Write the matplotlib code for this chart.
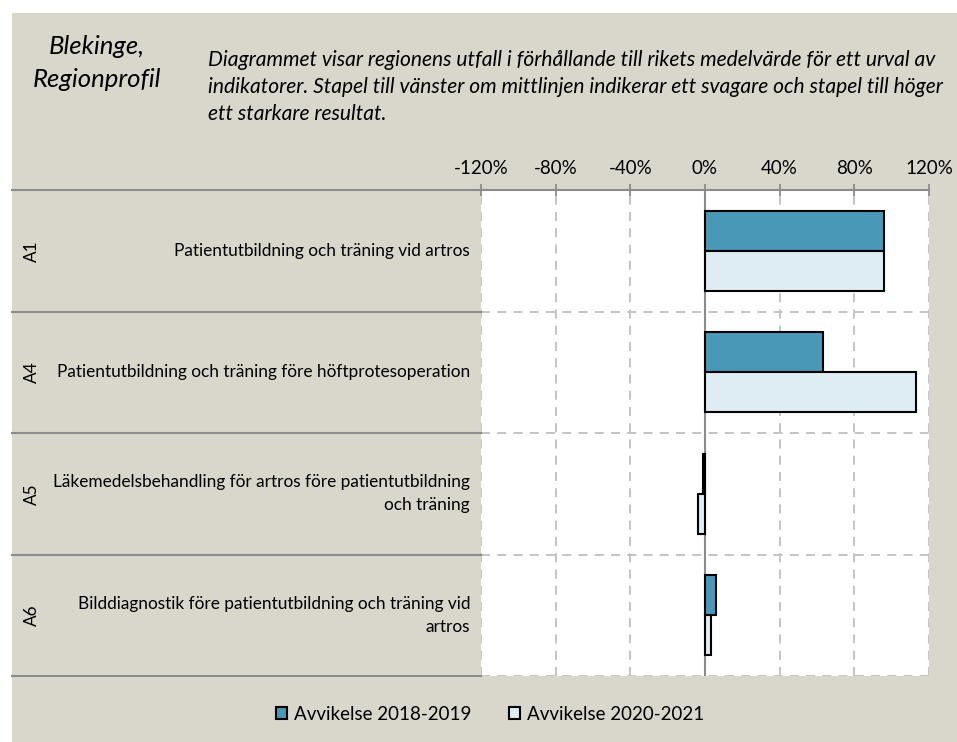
import numpy as np
import matplotlib.pyplot as plt
import matplotlib.transforms as mtransforms
from matplotlib.patches import Rectangle, Patch

codes = ['A1', 'A4', 'A5', 'A6']
labels = ['Patientutbildning och träning vid artros',
          'Patientutbildning och träning före höftprotesoperation',
          'Läkemedelsbehandling för artros före patientutbildning\noch träning',
          'Bilddiagnostik före patientutbildning och träning vid\nartros']
dev_1819 = [96, 63, -1, 6]
dev_2021 = [96, 113, -3.5, 3]
series_names = ['Avvikelse 2018-2019', 'Avvikelse 2020-2021']
xticks = [-120, -80, -40, 0, 40, 80, 120]

beige = '#d9d7cb'
dark = '#4a98b8'
light = '#deedf3'
sep = '#8c8c8c'
grid = '#bfbfbf'

plt.rcParams['font.family'] = ['Lato', 'DejaVu Sans']

W, H = 957, 742
fig = plt.figure(figsize=(W / 100, H / 100), dpi=100)
fig.patch.set_facecolor('white')
fig.patches.append(Rectangle((12 / W, 0), 1 - 12 / W, (H - 13) / H,
                             transform=fig.transFigure, facecolor=beige,
                             edgecolor='none', zorder=-10))

ax = fig.add_axes([481 / W, (H - 676) / H, (929 - 481) / W, (676 - 190) / H])
ax.set_facecolor('white')
ax.set_xlim(-120, 120)
ax.set_ylim(3.5, -0.5)

index = np.arange(len(codes))
h = 0.33
ax.barh(index - h / 2, dev_1819, h, color=dark, edgecolor='black', linewidth=1.5, zorder=3)
ax.barh(index + h / 2, dev_2021, h, color=light, edgecolor='black', linewidth=1.5, zorder=3)

for s in ax.spines.values():
    s.set_visible(False)

for x in xticks:
    if x == 0:
        ax.axvline(0, color=sep, lw=1.5, zorder=2)
    else:
        ax.axvline(x, color=grid, lw=1.3, ls=(0, (5, 4)), zorder=1)

ax.xaxis.tick_top()
ax.set_xticks(xticks)
ax.set_xticklabels([f'{x}%' for x in xticks], fontsize=13.5)
ax.tick_params(axis='x', direction='inout', length=8, color=sep, width=1.3, pad=5)
ax.set_yticks([])

# row boundaries: solid in the label area, dashed in the plot
trans = mtransforms.blended_transform_factory(fig.transFigure, ax.transData)
for b in np.arange(-0.5, len(codes)):
    if b > -0.5:
        ax.axhline(b, color=grid, lw=1.3, ls=(0, (5, 4)), zorder=1)
    ax.plot([12 / W, 481 / W], [b, b], color=sep, lw=1.5, transform=trans, clip_on=False)
ax.plot([481 / W, 929 / W], [-0.5, -0.5], color=sep, lw=1.5, transform=trans, clip_on=False)

for i in index:
    ax.text(470 / W, i, labels[i], transform=trans, ha='right', va='center',
            fontsize=12.4, linespacing=1.5)
    ax.text(32 / W, i, codes[i], transform=trans, ha='center', va='center',
            rotation=90, fontsize=12.4)

fig.text(97 / W, 1 - 63 / H, 'Blekinge,\nRegionprofil', ha='center', va='center',
         style='italic', fontsize=18.5, linespacing=1.55)
fig.text(208 / W, 1 - 87 / H,
         'Diagrammet visar regionens utfall i förhållande till rikets medelvärde för ett urval av\n'
         'indikatorer. Stapel till vänster om mittlinjen indikerar ett svagare och stapel till höger\n'
         'ett starkare resultat.',
         ha='left', va='center', style='italic', fontsize=15.1, linespacing=1.45)

handles = [Patch(facecolor=dark, edgecolor='black', lw=1.5),
           Patch(facecolor=light, edgecolor='black', lw=1.5)]
fig.legend(handles, series_names, loc='center', bbox_to_anchor=(490 / W, 1 - 714 / H),
           ncol=2, frameon=False, fontsize=13.5, handlelength=0.6, handleheight=0.6,
           handletextpad=0.35, columnspacing=2.0)

fig.savefig('out.png', dpi=100, facecolor=fig.get_facecolor())
